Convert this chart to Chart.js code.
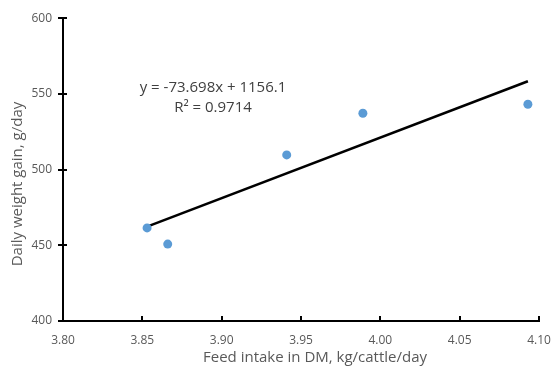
<!DOCTYPE html>
<html>
<head>
<meta charset="utf-8">
<script src="https://cdn.jsdelivr.net/npm/chart.js@4.4.1/dist/chart.umd.min.js"></script>
<style>
  html, body { margin: 0; padding: 0; background: #fff; }
  #wrap { width: 555px; height: 368px; position: relative; }
</style>
</head>
<body>
<div id="wrap"><canvas id="scatterChart"></canvas></div>
<script>
// feed intake (kg DM/cattle/day) vs daily gain (g/day)
var feedIntake = [3.853, 3.866, 3.941, 3.989, 4.093];
var dailyGain = [461.5, 450.8, 509.7, 537.2, 543.2];
var xTicks = [3.80, 3.85, 3.90, 3.95, 4.00, 4.05, 4.10];
var yTicks = [400, 450, 500, 550, 600];
var trendLabel = ['y = -73.698x + 1156.1', 'R\u00b2 = 0.9714'];
var xTitle = 'Feed intake in DM, kg/cattle/day';
var yTitle = 'Daily weight gain, g/day';

var FONT = "'Open Sans', sans-serif";

// least squares fit through the points
function linearFit(xs, ys) {
    var n = xs.length, mx = 0, my = 0, sxy = 0, sxx = 0;
    for (var i = 0; i < n; i++) { mx += xs[i]; my += ys[i]; }
    mx /= n; my /= n;
    for (var j = 0; j < n; j++) {
        sxy += (xs[j] - mx) * (ys[j] - my);
        sxx += (xs[j] - mx) * (xs[j] - mx);
    }
    var slope = sxy / sxx;
    return { slope: slope, intercept: my - slope * mx };
}

var fit = linearFit(feedIntake, dailyGain);
var xMin = Math.min.apply(null, feedIntake), xMax = Math.max.apply(null, feedIntake);
var trendPoints = [
    { x: xMin, y: fit.slope * xMin + fit.intercept },
    { x: xMax, y: fit.slope * xMax + fit.intercept }
];
var points = feedIntake.map(function (v, i) { return { x: v, y: dailyGain[i] }; });

// tick marks, equation and axis titles
var decorations = {
    id: 'decorations',
    afterDraw: function (chart) {
        var c = chart.ctx, xs = chart.scales.x, ys = chart.scales.y, a = chart.chartArea;
        c.save();
        c.strokeStyle = '#000';
        c.lineWidth = 2;
        c.beginPath();
        xTicks.forEach(function (t) {
            var px = Math.round(xs.getPixelForValue(t));
            c.moveTo(px, a.bottom); c.lineTo(px, a.bottom - 5);
        });
        yTicks.forEach(function (t) {
            var py = Math.round(ys.getPixelForValue(t));
            c.moveTo(a.left - 5, py); c.lineTo(a.left + 4, py);
        });
        c.stroke();

        c.fillStyle = '#404040';
        c.font = '15px ' + FONT;
        c.textAlign = 'center';
        c.textBaseline = 'middle';
        c.fillText(trendLabel[0], 213, 88);
        c.fillText(trendLabel[1], 213, 108);

        c.fillStyle = '#595959';
        c.font = '15px ' + FONT;
        c.fillText(xTitle, 315, 358);
        c.translate(18, 184);
        c.rotate(-Math.PI / 2);
        c.fillText(yTitle, 0, 0);
        c.restore();
    }
};

var ctx = document.getElementById('scatterChart');
var myChart = new Chart(ctx, {
    type: 'scatter',
    data: {
        datasets: [{
            label: 'Daily gain',
            data: points,
            backgroundColor: '#5b9bd5',
            borderWidth: 0,
            pointRadius: 4.5,
            pointHoverRadius: 4.5
        }, {
            type: 'line',
            label: 'Linear',
            data: trendPoints,
            borderColor: '#000',
            borderWidth: 2.5,
            pointRadius: 0,
            fill: false
        }]
    },
    plugins: [decorations],
    options: {
        responsive: true,
        maintainAspectRatio: false,
        animation: false,
        layout: { padding: { top: 18, right: 16, left: 0, bottom: 0 } },
        plugins: {
            legend: { display: false },
            tooltip: { enabled: false }
        },
        scales: {
            x: {
                type: 'linear',
                min: 3.80,
                max: 4.10,
                afterBuildTicks: function (scale) {
                    scale.ticks = xTicks.map(function (v) { return { value: v }; });
                },
                afterFit: function (scale) {
                    scale.height = 47;
                    scale.paddingLeft = 0;
                    scale.paddingRight = 0;
                },
                grid: { display: false, drawTicks: false },
                border: { display: true, color: '#000', width: 2 },
                ticks: {
                    padding: 12,
                    color: '#595959',
                    font: { family: FONT, size: 12 },
                    callback: function (v) { return v.toFixed(2); }
                }
            },
            y: {
                min: 400,
                max: 600,
                afterBuildTicks: function (scale) {
                    scale.ticks = yTicks.map(function (v) { return { value: v }; });
                },
                afterFit: function (scale) { scale.width = 63; },
                grid: { display: false, drawTicks: false },
                border: { display: true, color: '#000', width: 2 },
                ticks: {
                    padding: 11,
                    color: '#595959',
                    font: { family: FONT, size: 12 }
                }
            }
        }
    }
});
</script>
</body>
</html>
